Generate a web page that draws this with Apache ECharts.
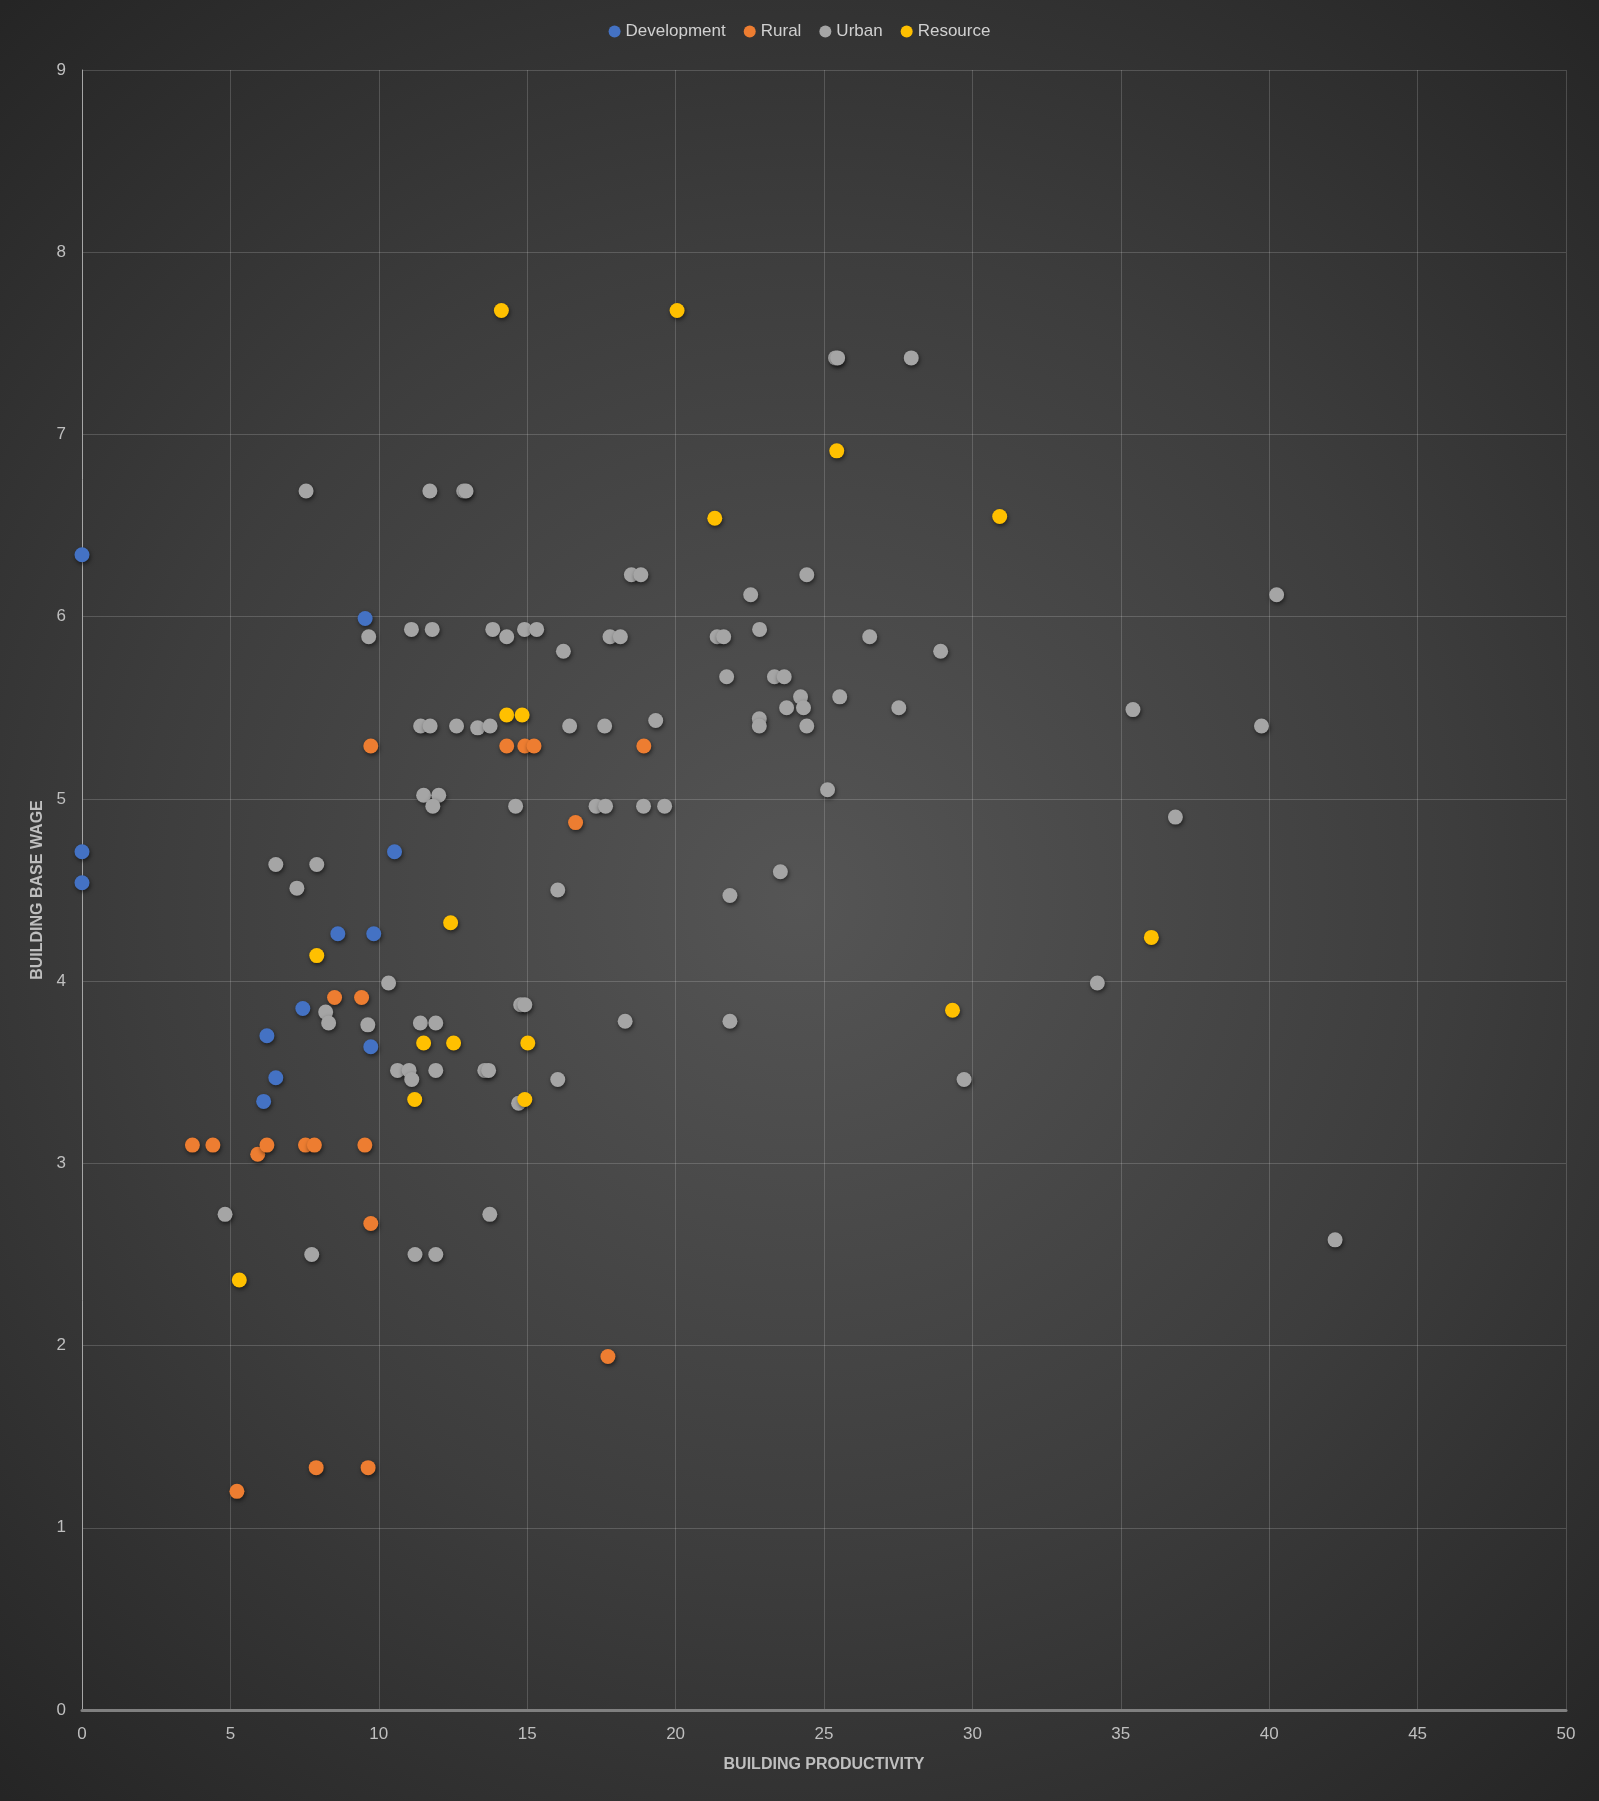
<!DOCTYPE html>
<html>
<head>
<meta charset="utf-8">
<script src="https://cdn.jsdelivr.net/npm/echarts@6/dist/echarts.min.js"></script>
<style>
html,body{margin:0;padding:0;background:#2a2a2a;}
#chart{width:1599px;height:1801px;}
</style>
</head>
<body>
<div id="chart"></div>
<script>
var seriesNames = ['Development', 'Rural', 'Urban', 'Resource'];
var seriesColors = ['#4472C4', '#ED7D31', '#A5A5A5', '#FFC000'];
var xTicks = [0, 5, 10, 15, 20, 25, 30, 35, 40, 45, 50];
var yTicks = [0, 1, 2, 3, 4, 5, 6, 7, 8, 9];

var development = [
  [0, 6.34], [0, 4.71], [0, 4.54], [9.54, 5.99], [10.53, 4.71], [8.62, 4.26],
  [9.83, 4.26], [7.44, 3.85], [6.23, 3.70], [6.53, 3.47], [6.12, 3.34], [9.73, 3.64]
];
var rural = [
  [3.72, 3.10], [4.41, 3.10], [5.92, 3.05], [6.23, 3.10], [7.53, 3.10], [7.83, 3.10],
  [9.53, 3.10], [9.73, 2.67], [8.51, 3.91], [9.42, 3.91], [9.73, 5.29], [14.31, 5.29],
  [14.92, 5.29], [15.23, 5.29], [18.93, 5.29], [16.63, 4.87], [17.72, 1.94], [7.89, 1.33],
  [9.64, 1.33], [5.22, 1.20]
];
var urban = [
  [7.55, 6.69], [11.72, 6.69], [12.86, 6.69], [12.94, 6.69], [25.39, 7.42], [25.46, 7.42],
  [27.94, 7.42], [18.51, 6.23], [18.83, 6.23], [24.42, 6.23], [22.53, 6.12], [40.25, 6.12],
  [9.66, 5.89], [11.10, 5.93], [11.80, 5.93], [13.84, 5.93], [14.31, 5.89], [14.91, 5.93],
  [15.32, 5.93], [16.22, 5.81], [17.79, 5.89], [18.14, 5.89], [21.40, 5.89], [21.62, 5.89],
  [22.83, 5.93], [26.54, 5.89], [28.93, 5.81], [21.72, 5.67], [23.33, 5.67], [23.66, 5.67],
  [24.21, 5.56], [25.53, 5.56], [23.74, 5.50], [24.31, 5.50], [27.52, 5.50], [35.41, 5.49],
  [22.82, 5.44], [22.82, 5.40], [24.42, 5.40], [19.33, 5.43], [39.74, 5.40], [11.41, 5.40],
  [11.73, 5.40], [12.62, 5.40], [13.33, 5.39], [13.75, 5.40], [16.43, 5.40], [17.61, 5.40],
  [11.51, 5.02], [12.02, 5.02], [11.82, 4.96], [14.61, 4.96], [17.32, 4.96], [17.64, 4.96],
  [18.92, 4.96], [19.63, 4.96], [25.12, 5.05], [36.84, 4.90], [6.53, 4.64], [7.91, 4.64],
  [7.24, 4.51], [16.03, 4.50], [21.83, 4.47], [23.53, 4.60], [10.33, 3.99], [34.21, 3.99],
  [8.21, 3.83], [8.31, 3.77], [9.63, 3.76], [11.40, 3.77], [11.92, 3.77], [14.78, 3.87],
  [14.92, 3.87], [18.30, 3.78], [21.83, 3.78], [10.63, 3.51], [11.02, 3.51], [11.11, 3.46],
  [11.92, 3.51], [13.57, 3.51], [13.70, 3.51], [16.03, 3.46], [14.71, 3.33], [29.72, 3.46],
  [4.82, 2.72], [13.74, 2.72], [7.74, 2.50], [11.22, 2.50], [11.92, 2.50], [42.22, 2.58]
];
var resource = [
  [14.13, 7.68], [20.05, 7.68], [25.43, 6.91], [21.32, 6.54], [30.92, 6.55], [14.31, 5.46],
  [14.83, 5.46], [12.42, 4.32], [7.91, 4.14], [11.51, 3.66], [12.52, 3.66], [15.02, 3.66],
  [11.21, 3.35], [14.92, 3.35], [5.30, 2.36], [36.03, 4.24], [29.33, 3.84]
];

var allData = [development, rural, urban, resource];
var FONT = '"Liberation Sans Narrow", "Liberation Sans", Arial, sans-serif';

var chart = echarts.init(document.getElementById('chart'), null, {renderer: 'canvas'});

var series = seriesNames.map(function (name, i) {
  return {
    name: name,
    type: 'scatter',
    data: allData[i],
    symbol: 'circle',
    symbolSize: 15,
    itemStyle: {
      color: seriesColors[i],
      opacity: 1,
      shadowBlur: 4,
      shadowOffsetX: 1,
      shadowOffsetY: 2,
      shadowColor: 'rgba(0,0,0,0.55)'
    }
  };
});

chart.setOption({
  backgroundColor: {
    type: 'radial', x: 0.5, y: 0.5, r: 0.75,
    colorStops: [
      {offset: 0, color: '#555555'},
      {offset: 0.55, color: '#3d3d3d'},
      {offset: 1, color: '#252525'}
    ]
  },
  animation: false,
  textStyle: {fontFamily: FONT},
  legend: {
    data: seriesNames,
    top: 18,
    left: 'center',
    icon: 'circle',
    itemWidth: 12,
    itemHeight: 12,
    itemGap: 18,
    textStyle: {color: '#d0d0d0', fontSize: 17, fontFamily: FONT}
  },
  grid: {left: 82, right: 33, top: 70, bottom: 91, containLabel: false},
  xAxis: {
    type: 'value',
    min: xTicks[0],
    max: xTicks[xTicks.length - 1],
    interval: 5,
    name: 'BUILDING PRODUCTIVITY',
    nameLocation: 'middle',
    nameGap: 47,
    nameTextStyle: {color: '#bfbfbf', fontSize: 16, fontWeight: 'bold', fontFamily: FONT},
    axisLine: {show: true, onZero: false, lineStyle: {color: '#808080', width: 3}},
    axisTick: {show: false},
    axisLabel: {color: '#bfbfbf', fontSize: 17, margin: 16, fontFamily: FONT},
    splitLine: {show: true, lineStyle: {color: 'rgba(255,255,255,0.17)', width: 1}}
  },
  yAxis: {
    type: 'value',
    min: yTicks[0],
    max: yTicks[yTicks.length - 1],
    interval: 1,
    name: 'BUILDING BASE WAGE',
    nameLocation: 'middle',
    nameGap: 35,
    nameRotate: 90,
    nameTextStyle: {color: '#bfbfbf', fontSize: 16, fontWeight: 'bold', fontFamily: FONT},
    axisLine: {show: true, onZero: false, lineStyle: {color: '#a6a6a6', width: 1}},
    axisTick: {show: false},
    axisLabel: {color: '#bfbfbf', fontSize: 17, margin: 16, fontFamily: FONT},
    splitLine: {show: true, lineStyle: {color: 'rgba(255,255,255,0.17)', width: 1}}
  },
  series: series
});
</script>
</body>
</html>
